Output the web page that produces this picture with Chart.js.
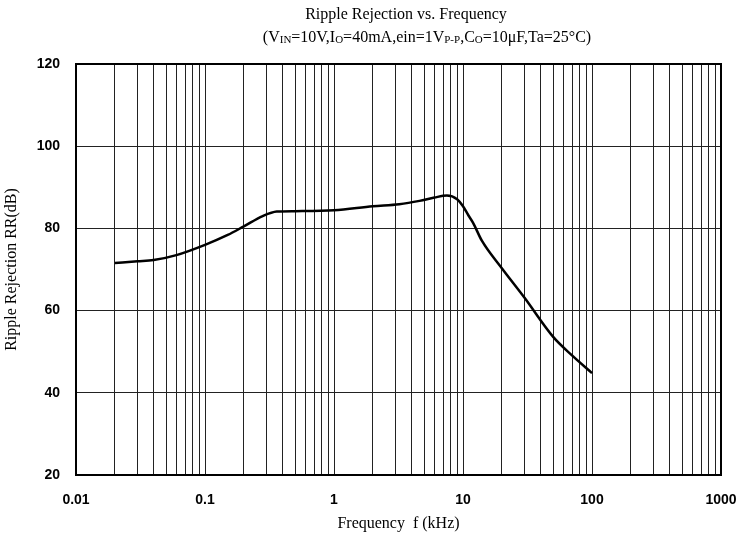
<!DOCTYPE html>
<html>
<head>
<meta charset="utf-8">
<script src="https://cdn.jsdelivr.net/npm/chart.js@4.4.1/dist/chart.umd.min.js"></script>
<style>
  body { margin: 0; background: #fff; }
  #wrap { width: 739px; height: 537px; }
</style>
</head>
<body>
<div id="wrap"><canvas id="chart" width="739" height="537"></canvas></div>
<script>
// frequency in kHz, ripple rejection in dB
const FREQ = [0.02, 0.03, 0.04, 0.06, 0.1, 0.15, 0.2, 0.28, 0.36, 0.5, 1, 2, 3.2, 4.6, 6, 7.5, 9, 10, 11, 12, 14, 20, 30, 50, 70, 100];
const RR = [71.6, 72, 72.3, 73.5, 76, 78.4, 80.5, 83, 84.1, 84.2, 84.4, 85.4, 85.9, 86.7, 87.5, 88, 87.1, 85.4, 83.2, 81.3, 77, 70.3, 63.1, 53.6, 49.1, 44.8];

const X_DECADES = [0.01, 0.1, 1, 10, 100, 1000];
const X_LABELS = ['0.01', '0.1', '1', '10', '100', '1000'];
const Y_TICKS = [20, 40, 60, 80, 100, 120];

const TITLE = 'Ripple Rejection vs. Frequency';
// second title line, [text, isSubscript]
const SUBTITLE = [
  ['(V', 0], ['IN', 1], ['=10V,I', 0], ['O', 1], ['=40mA,ein=1V', 0], ['P-P', 1],
  [',C', 0], ['O', 1], ['=10\u03bcF,Ta=25\u00b0C)', 0],
];

const SERIF = '"Liberation Serif", "Times New Roman", serif';
const SANS = '"Liberation Sans", Arial, sans-serif';

// every 1..9 multiple inside each decade, for the grid
const gridTicks = [];
X_DECADES.forEach((d, i) => {
  if (i === X_DECADES.length - 1) { gridTicks.push(d); return; }
  for (let m = 1; m <= 9; m++) gridTicks.push(+(d * m).toPrecision(3));
});

// both title lines, the second one with subscripts
const titlePlugin = {
  id: 'titleLines',
  afterDraw(chart) {
    const ctx = chart.ctx;
    const big = '16px ' + SERIF;
    const small = '11px ' + SERIF;
    ctx.save();
    ctx.fillStyle = '#000';
    ctx.textBaseline = 'middle';
    ctx.font = big;
    ctx.textAlign = 'center';
    ctx.fillText(TITLE, 406, 15);

    ctx.textAlign = 'left';
    let total = 0;
    SUBTITLE.forEach(([t, s]) => { ctx.font = s ? small : big; total += ctx.measureText(t).width; });
    let x = 427 - total / 2;
    const y = 38;
    SUBTITLE.forEach(([t, s]) => {
      ctx.font = s ? small : big;
      ctx.fillText(t, x, s ? y + 2 : y);
      x += ctx.measureText(t).width;
    });
    ctx.restore();
  },
};

// heavy frame round the plot area
const framePlugin = {
  id: 'frame',
  beforeDatasetsDraw(chart) {
    const { ctx, chartArea: a } = chart;
    ctx.save();
    ctx.strokeStyle = '#000';
    ctx.lineWidth = 2;
    ctx.strokeRect(a.left, a.top, a.right - a.left, a.bottom - a.top);
    ctx.restore();
  },
};

new Chart(document.getElementById('chart').getContext('2d'), {
  type: 'line',
  data: {
    datasets: [{
      data: FREQ.map((f, i) => ({ x: f, y: RR[i] })),
      borderColor: '#000',
      borderWidth: 2.5,
      pointRadius: 0,
      cubicInterpolationMode: 'monotone',
      fill: false,
    }],
  },
  options: {
    responsive: false,
    animation: false,
    layout: { padding: { left: 0, right: 0, top: 64, bottom: 0 } },
    plugins: {
      legend: { display: false },
      tooltip: { enabled: false },
      title: { display: false },
    },
    scales: {
      x: {
        type: 'logarithmic',
        min: 0.01,
        max: 1000,
        afterBuildTicks: (scale) => { scale.ticks = gridTicks.map((v) => ({ value: v })); },
        afterFit: (scale) => {
          scale.height = 62;
          scale.paddingRight = 18;
          scale.paddingLeft = 0;
        },
        ticks: {
          autoSkip: false,
          maxRotation: 0,
          padding: 17,
          color: '#000',
          font: { family: SANS, size: 14, weight: 'bold' },
          callback: (v) => {
            const i = X_DECADES.findIndex((d) => Math.abs(d - v) < d * 1e-6);
            return i >= 0 ? X_LABELS[i] : '';
          },
        },
        grid: { color: '#222', lineWidth: 1, drawTicks: false },
        border: { color: '#000', width: 2 },
        title: {
          display: true,
          text: 'Frequency  f (kHz)',
          color: '#000',
          font: { family: SERIF, size: 16 },
          padding: { top: 0, bottom: 4 },
        },
      },
      y: {
        min: 20,
        max: 120,
        afterBuildTicks: (scale) => { scale.ticks = Y_TICKS.map((v) => ({ value: v })); },
        afterFit: (scale) => { scale.width = 76; },
        ticks: {
          padding: 16,
          color: '#000',
          font: { family: SANS, size: 14, weight: 'bold' },
        },
        grid: { color: '#222', lineWidth: 1, drawTicks: false },
        border: { color: '#000', width: 2 },
        title: {
          display: true,
          text: 'Ripple Rejection RR(dB)',
          color: '#000',
          font: { family: SERIF, size: 16 },
          padding: { top: 2, bottom: 0 },
        },
      },
    },
  },
  plugins: [titlePlugin, framePlugin],
});
</script>
</body>
</html>
